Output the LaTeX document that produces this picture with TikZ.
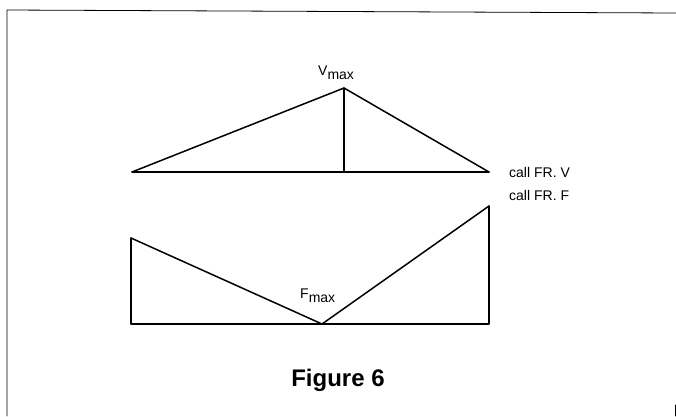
\documentclass[tikz,border=0pt]{standalone}
\usepackage{fontspec}
\setmainfont{Liberation Sans}
\usetikzlibrary{positioning}

\begin{document}
\begin{tikzpicture}[
        x=1pt, y=-1pt,
        line cap=round,
        line join=round,
        diag/.style={line width=1.5pt},
        frame/.style={line width=0.8pt},
        lbl/.style={font=\fontsize{14}{16}\selectfont, inner sep=0pt}
    ]
        \useasboundingbox (0,0) rectangle (676,416);

        % cornice
        \coordinate (c1) at (7,416);
        \coordinate (c2) at (7,10);
        \coordinate (c3) at (676,13);
        \coordinate (c4) at (675,405);
        \coordinate (c5) at (675,416);
        \draw[frame] (c1)--(c2)--(c3);
        \draw[frame] (c4)--(c5);

        % diagramma V
        \begin{scope}
            \coordinate (v1) at (132,172);
            \coordinate (v2) at (344,88);
            \coordinate (v3) at (489,172);
            \coordinate (v4) at (344,172);

            \draw[diag] (v1)--(v3);
            \draw[diag] (v1)--(v2)--(v3);
            \draw[diag] (v2)--(v4);

            \node[lbl, anchor=base west] (vmax) at (318,75) {V\raisebox{-4pt}{max}};
            \node[lbl, anchor=base west] (callv) at (509,177) {call FR. V};
        \end{scope}

        % diagramma F
        \begin{scope}
            \coordinate (f1) at (131,238);
            \coordinate (f2) at (131,324);
            \coordinate (f3) at (489,324);
            \coordinate (f4) at (489,206);
            \coordinate (f5) at (322,324);

            \draw[diag] (f1)--(f2)--(f3)--(f4);
            \draw[diag] (f1)--(f5)--(f4);

            \node[lbl, anchor=base west] (fmax) at (300,298) {F\raisebox{-4pt}{max}};
            \node[lbl, anchor=base west] (callf) at (509,200) {call FR. F};
        \end{scope}

        \node[font=\bfseries\fontsize{24}{28}\selectfont, anchor=base] (title) at (338,386) {Figure 6};
    \end{tikzpicture}
\end{document}
